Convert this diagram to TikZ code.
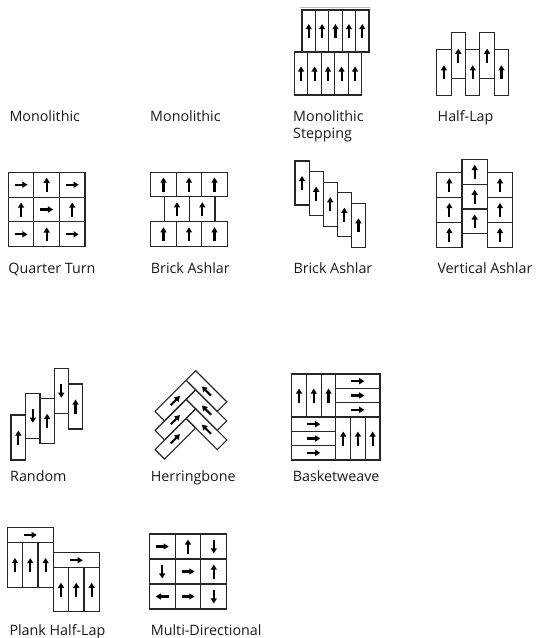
\documentclass[tikz,border=0pt]{standalone}
\usepackage{fontspec}
\setmainfont{Open Sans}
\usetikzlibrary{arrows.meta}
\newcommand\tarw[4]{\draw[tarr] ({#1-(#3)},{#2-(#4)}) -- ({#1+(#3)},{#2+(#4)});}
\newcommand\aup[2]{\tarw{#1}{#2}{0}{-7}}
\newcommand\adn[2]{\tarw{#1}{#2}{0}{7}}
\newcommand\art[2]{\tarw{#1}{#2}{6.5}{0}}
\newcommand\alf[2]{\tarw{#1}{#2}{-6.5}{0}}
\begin{document}
\begin{tikzpicture}[x=1pt,y=-1pt,
  tile/.style={draw=black!85,line width=1.1pt},
  tarr/.style={draw=black,line width=2.1pt,-{Triangle[length=5.2pt,width=6pt]}},
  lbl/.style={anchor=base west,inner sep=0pt,font=\fontsize{14.3}{17}\selectfont,text=black!90}]
\useasboundingbox (0,0) rectangle (537,638);

% ---------- Monolithic Stepping ----------
\draw[gray!55,line width=1pt] (300,7.3) -- (370,7.3);
\foreach \i in {0,...,4}{
  \pgfmathsetmacro\xa{302+13.4*\i}
  \draw[tile] (\xa,10) rectangle ++(13.4,42);
  \aup{\xa+6.7}{31}
}
\foreach \i in {0,...,4}{
  \pgfmathsetmacro\xa{294.3+13.5*\i}
  \draw[tile] (\xa,52) rectangle ++(13.5,43);
  \aup{\xa+6.75}{73.5}
}

% ---------- Half-Lap ----------
\foreach \x/\y in {436.7/49.3, 451.1/32.7, 465.5/49.3, 479.9/32.7, 494.3/49.3}{
  \draw[tile] (\x,\y) rectangle ++(14.4,45.8);
  \aup{\x+7.2}{\y+22.9}
}

% ---------- Quarter Turn ----------
\foreach \r in {0,1,2}{\foreach \c in {0,1,2}{
  \draw[tile] ({8.3+25.57*\c},{172.3+24.8*\r}) rectangle ++(25.57,24.8);
}}
\art{21.08}{184.7} \aup{46.65}{184.7} \art{72.22}{184.7}
\aup{21.08}{209.5} \art{46.65}{209.5} \aup{72.22}{209.5}
\art{21.08}{234.3} \aup{46.65}{234.3} \art{72.22}{234.3}

% ---------- Brick Ashlar ----------
\foreach \c in {0,1,2}{
  \draw[tile] ({150.7+25.53*\c},172.3) rectangle ++(25.53,24.4);
  \aup{163.47+25.53*\c}{184.5}
  \draw[tile] ({150.7+25.53*\c},221.7) rectangle ++(25.53,25);
  \aup{163.47+25.53*\c}{234.2}
}
\foreach \c in {0,1}{
  \draw[tile] ({164.3+25.35*\c},196.7) rectangle ++(25.35,25);
  \aup{176.98+25.35*\c}{209.2}
}

% ---------- Brick Ashlar (stepped) ----------
\foreach \i in {0,...,4}{
  \pgfmathsetmacro\xa{295+14.1*\i}
  \pgfmathsetmacro\ya{161+10.55*\i}
  \draw[tile] (\xa,\ya) rectangle ++(14.1,44);
  \aup{\xa+7.05}{\ya+22}
}

% ---------- Vertical Ashlar ----------
\foreach \r in {0,1,2}{
  \pgfmathsetmacro\ya{172.7+24.87*\r}
  \pgfmathsetmacro\yb{159.5+24.77*\r}
  \draw[tile] (436.7,\ya) rectangle ++(25.33,24.87);
  \aup{449.37}{\ya+12.43}
  \draw[tile] (462.03,\yb) rectangle ++(25.34,24.77);
  \aup{474.7}{\yb+12.38}
  \draw[tile] (487.37,\ya) rectangle ++(25.33,24.87);
  \aup{500.03}{\ya+12.43}
}

% ---------- Random ----------
\draw[tile] (11,415) rectangle (25.7,460);     \aup{18.35}{437.5}
\draw[tile] (25.7,393.3) rectangle (40,438.3); \adn{32.85}{415.8}
\draw[tile] (40,398.3) rectangle (54.3,443.3); \aup{47.15}{420.8}
\draw[tile] (54.3,368.3) rectangle (68.3,413.3); \adn{61.3}{390.8}
\draw[tile] (68.3,384) rectangle (82.7,429);   \aup{75.5}{406.5}

% ---------- Herringbone ----------
\foreach \k in {0,1,2}{
  \pgfmathsetmacro\tx{195.7}
  \pgfmathsetmacro\ty{370.7+19.09*\k}
  \draw[tile,line join=miter] (\tx,\ty) -- ({\tx+31.11},{\ty+31.11}) -- ({\tx+21.56},{\ty+40.66}) -- ({\tx-9.546},{\ty+9.546}) -- cycle;
  \draw[tile,line join=miter] ({\tx-9.546},{\ty+9.546}) -- ({\tx-40.66},{\ty+40.66}) -- ({\tx-31.11},{\ty+50.2}) -- (\tx,{\ty+19.09}) -- cycle;
  \tarw{\tx+10.78}{\ty+20.33}{-4.6}{-4.6}
  \tarw{\tx-20.33}{\ty+29.87}{4.6}{-4.6}
}

% ---------- Basketweave ----------
\foreach \i in {0,1,2}{
  \draw[tile] ({291.7+14.72*\i},374) rectangle ++(14.72,43);
  \aup{299.06+14.72*\i}{395.5}
  \draw[tile] ({335.85+14.72*\i},417) rectangle ++(14.72,43);
  \aup{343.21+14.72*\i}{438.5}
  \draw[tile] (335.85,{374+14.33*\i}) rectangle ++(44.15,14.33);
  \art{357.9}{381.17+14.33*\i}
  \draw[tile] (291.7,{417+14.33*\i}) rectangle ++(44.15,14.33);
  \art{313.8}{424.17+14.33*\i}
}

% ---------- Plank Half-Lap ----------
\draw[tile] (7.3,527.3) rectangle (53.3,542.7); \art{30.3}{535}
\draw[tile] (53.3,552.7) rectangle (99.3,567.7); \art{76.3}{560.2}
\foreach \i in {0,1,2}{
  \draw[tile] ({7.3+15.33*\i},542.7) rectangle ++(15.33,44.6);
  \aup{14.97+15.33*\i}{565}
  \draw[tile] ({53.3+15.33*\i},567.7) rectangle ++(15.33,44);
  \aup{60.97+15.33*\i}{589.7}
}

% ---------- Multi-Directional ----------
\foreach \r in {0,1,2}{\foreach \c in {0,1,2}{
  \draw[tile] ({149.3+25.8*\c},{534+25*\r}) rectangle ++(25.8,25);
}}
\art{162.2}{546.5} \aup{188}{546.5} \adn{213.8}{546.5}
\adn{162.2}{571.5} \art{188}{571.5} \aup{213.8}{571.5}
\alf{162.2}{596.5} \art{188}{596.5} \adn{213.8}{596.5}

% ---------- Labels ----------
\node[lbl] (l1) at (9.3,121.5) {Monolithic};
\node[lbl] (l2) at (150,121.5) {Monolithic};
\node[lbl] (l3a) at (293,121.5) {Monolithic};
\node[lbl] (l3b) at (293,138.5) {Stepping};
\node[lbl] (l4) at (437.5,121.5) {Half-Lap};
\node[lbl] (l5) at (8.3,273.3) {Quarter Turn};
\node[lbl] (l6) at (150.7,273.3) {Brick Ashlar};
\node[lbl] (l7) at (293.3,273.3) {Brick Ashlar};
\node[lbl] (l8) at (437.3,273.3) {Vertical Ashlar};
\node[lbl] (l9) at (10,481.3) {Random};
\node[lbl] (l10) at (150.7,481) {Herringbone};
\node[lbl] (l11) at (292.7,481) {Basketweave};
\node[lbl] (l12) at (9.3,635) {Plank Half-Lap};
\node[lbl] (l13) at (150.7,635) {Multi-Directional};
\end{tikzpicture}
\end{document}
